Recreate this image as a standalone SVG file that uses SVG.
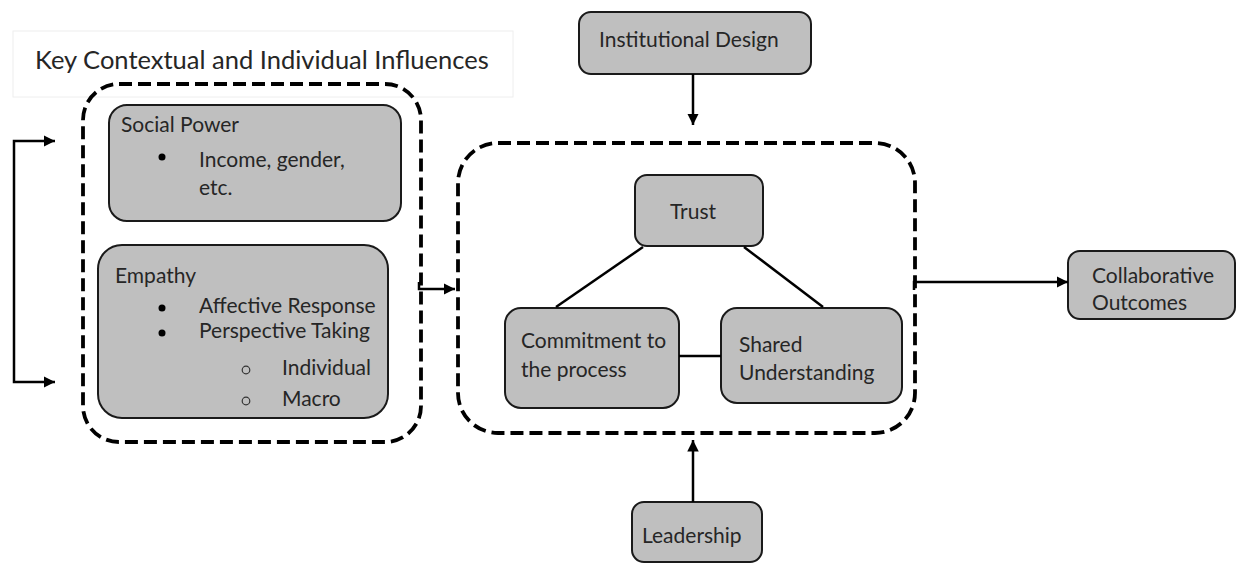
<svg xmlns="http://www.w3.org/2000/svg" width="1239" height="564" viewBox="0 0 1239 564">
<style>
text{font-family:Lato,"Liberation Sans",sans-serif;font-size:21px;fill:#262626}
.box{fill:#bfbfbf;stroke:#1a1a1a;stroke-width:2}
.dash{fill:none;stroke:#000;stroke-width:3.8;stroke-dasharray:13 6}
.ln{fill:none;stroke:#000;stroke-width:2.5}
.arr{fill:none;stroke:#000;stroke-width:2.5;marker-end:url(#ah)}
.sub{fill:none;stroke:#333;stroke-width:1.2}
</style>
<defs>
<marker id="ah" viewBox="0 0 10 10" refX="10" refY="5" markerWidth="4.6" markerHeight="4.6" orient="auto-start-reverse" markerUnits="strokeWidth">
<path d="M0,0 L10,5 L0,10 z" fill="#000"/>
</marker>
</defs>
<rect width="1239" height="564" fill="#fff"/>
<g id="title">
<rect x="13" y="31" width="500" height="66" fill="#fff" stroke="#eeeeee" stroke-width="1"/>
<text x="35" y="69" style="font-size:25.5px">Key Contextual and Individual Influences</text>
</g>
<g id="influences">
<rect class="dash" x="83" y="84" width="338" height="358" rx="36"/>
</g>
<g id="social-power">
<rect class="box" x="109" y="105" width="292" height="116" rx="18"/>
<text x="121" y="132">Social Power</text>
<circle cx="162" cy="157" r="3.5" fill="#000"/>
<text x="199" y="167">Income, gender,</text>
<text x="199" y="195">etc.</text>
</g>
<g id="empathy">
<rect class="box" x="98" y="245" width="290" height="173" rx="24"/>
<text x="115" y="283">Empathy</text>
<circle cx="162" cy="308" r="3.5" fill="#000"/>
<text x="199" y="313">Affective Response</text>
<circle cx="162" cy="333" r="3.5" fill="#000"/>
<text x="199" y="338">Perspective Taking</text>
<circle class="sub" cx="246" cy="370" r="3.8"/>
<text x="282" y="375">Individual</text>
<circle class="sub" cx="246" cy="401" r="3.8"/>
<text x="282" y="406">Macro</text>
</g>
<g id="process">
<rect class="dash" x="458" y="143" width="457" height="290" rx="40"/>
</g>
<g id="institutional-design">
<rect class="box" x="579" y="12" width="232" height="62" rx="12"/>
<text x="599" y="47">Institutional Design</text>
</g>
<g id="trust">
<rect class="box" x="635" y="175" width="128" height="71" rx="12"/>
<text x="693" y="219" text-anchor="middle">Trust</text>
</g>
<g id="commitment">
<rect class="box" x="505" y="308" width="174" height="100" rx="16"/>
<text x="521" y="348">Commitment to</text>
<text x="521" y="377">the process</text>
</g>
<g id="shared-understanding">
<rect class="box" x="721" y="308" width="181" height="95" rx="16"/>
<text x="739" y="352">Shared</text>
<text x="739" y="380">Understanding</text>
</g>
<g id="leadership">
<rect class="box" x="632" y="502" width="130" height="60" rx="12"/>
<text x="642" y="543">Leadership</text>
</g>
<g id="collaborative-outcomes">
<rect class="box" x="1068" y="251" width="167" height="68" rx="12"/>
<text x="1092" y="283">Collaborative</text>
<text x="1092" y="310">Outcomes</text>
</g>
<g id="connectors">
<path class="arr" d="M55 141 H14 V382 H55" marker-start="url(#ah)"/>
<path class="arr" d="M419 282 V289 H455"/>
<path class="arr" d="M693 74 V125"/>
<path class="arr" d="M693 502 V440"/>
<path class="arr" d="M914 290 V282 H1068"/>
<path class="ln" d="M643 247 L556 307"/>
<path class="ln" d="M744 247 L823 307"/>
<path class="ln" d="M679 356 H721"/>
</g>
</svg>
